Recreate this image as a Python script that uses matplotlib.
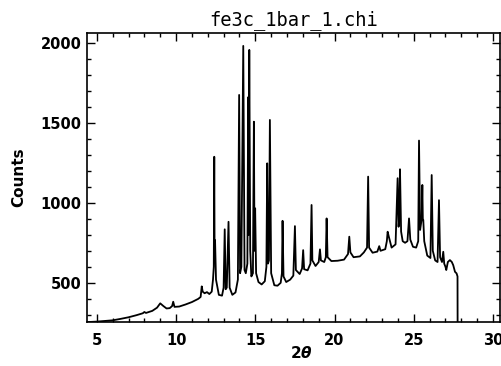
import numpy as np
from matplotlib import pyplot as plt

# 2-theta positions and counts
two_theta = [4.40, 5.0, 5.5, 6.0, 6.5, 7.0, 7.5, 7.9, 8.0, 8.1, 8.5, 8.8, 9.0, 9.2, 9.4,
             9.6, 9.75, 9.82, 9.9, 10.2, 10.6, 11.0, 11.4, 11.55, 11.62, 11.68, 11.8,
             11.95, 12.1, 12.25, 12.33, 12.38, 12.41, 12.43, 12.46, 12.52, 12.7, 12.9,
             13.0, 13.07, 13.13, 13.2, 13.31, 13.38, 13.55, 13.75, 13.9, 13.98, 14.04,
             14.12, 14.24, 14.32, 14.40, 14.50, 14.55, 14.58, 14.62, 14.68, 14.75, 14.85,
             14.91, 14.95, 14.99, 15.05, 15.2, 15.4, 15.6, 15.7, 15.75, 15.8, 15.86,
             15.92, 16.0, 16.2, 16.4, 16.6, 16.68, 16.72, 16.78, 16.95, 17.2, 17.4,
             17.5, 17.56, 17.8, 17.95, 18.02, 18.08, 18.3, 18.48, 18.55, 18.6, 18.8,
             19.0, 19.08, 19.14, 19.35, 19.45, 19.5, 19.56, 19.8, 20.2, 20.6, 20.85,
             20.93, 21.0, 21.2, 21.6, 21.85, 21.95, 22.05, 22.12, 22.18, 22.4, 22.7,
             22.82, 22.9, 23.2, 23.3, 23.35, 23.42, 23.6, 23.85, 23.98, 24.04, 24.08,
             24.13, 24.2, 24.3, 24.45, 24.6, 24.7, 24.78, 24.95, 25.15, 25.28, 25.33,
             25.4, 25.5, 25.54, 25.57, 25.60, 25.66, 25.85, 26.05, 26.13, 26.2, 26.35,
             26.5, 26.59, 26.66, 26.78, 26.86, 26.92, 27.0, 27.05, 27.15, 27.28, 27.4,
             27.49, 27.6, 27.7, 27.74, 27.76, 27.77]
counts = [255, 258, 262, 266, 275, 285, 298, 310, 318, 312, 325, 345, 372, 355, 340,
          342, 355, 382, 350, 352, 365, 380, 400, 412, 478, 445, 435,
          442, 430, 445, 520, 600, 1287, 700, 766, 520, 425, 420,
          470, 834, 460, 470, 881, 470, 425, 440, 520, 1673, 560,
          600, 1979, 580, 560, 620, 1659, 800, 1954, 700, 540, 560,
          1506, 700, 965, 560, 505, 490, 510, 600, 1246, 620, 640,
          1517, 560, 485, 482, 500, 560, 887, 540, 505, 520, 545,
          854, 580, 555, 590, 704, 585, 578, 620, 986, 640, 605,
          630, 709, 640, 630, 660, 902, 660, 636, 638, 645, 680,
          788, 690, 660, 665, 690, 705, 720, 1163, 720, 688, 695,
          729, 700, 710, 760, 819, 790, 720, 740, 1153, 850, 900,
          1209, 820, 760, 750, 760, 902, 770, 725, 720, 760, 1388,
          830, 900, 1111, 900, 892, 760, 670, 655, 1173, 700, 640,
          630, 1016, 660, 630, 694, 620, 600, 580, 630, 642, 630,
          610, 569, 559, 545, 540, 0]

fig = plt.figure(figsize=(5.02, 3.66), dpi=100)
ax = fig.add_axes([0.173, 0.120, 0.823, 0.790])

ax.plot(two_theta, counts, color="black", linewidth=1.3)

ax.set_xlim(4.37, 30.44)
ax.set_ylim(255, 2060)
ax.set_xticks([5, 10, 15, 20, 25, 30])
ax.set_yticks([500, 1000, 1500, 2000])
ax.set_xticks(np.arange(5, 31, 1), minor=True)
ax.set_yticks(np.arange(300, 2060, 100), minor=True)

ax.tick_params(which="both", direction="in", top=True, right=True, width=1.0)
ax.tick_params(which="major", length=6, labelsize=10.5)
ax.tick_params(axis="x", which="major", pad=8)
ax.tick_params(axis="y", which="major", pad=4)
ax.tick_params(which="minor", length=3)
for lab in ax.get_xticklabels() + ax.get_yticklabels():
    lab.set_fontweight("bold")
for sp in ax.spines.values():
    sp.set_linewidth(1.2)

ax.set_title("fe3c_1bar_1.chi", fontsize=13.5, family="DejaVu Sans Mono", pad=6)
ax.set_ylabel("Counts", fontsize=11, fontweight="bold", labelpad=10)
ax.set_xlabel(r"$\mathbf{2}\boldsymbol{\theta}$", fontsize=11)
ax.xaxis.set_label_coords(0.518, -0.078)

fig.savefig("out.png", dpi=100)
